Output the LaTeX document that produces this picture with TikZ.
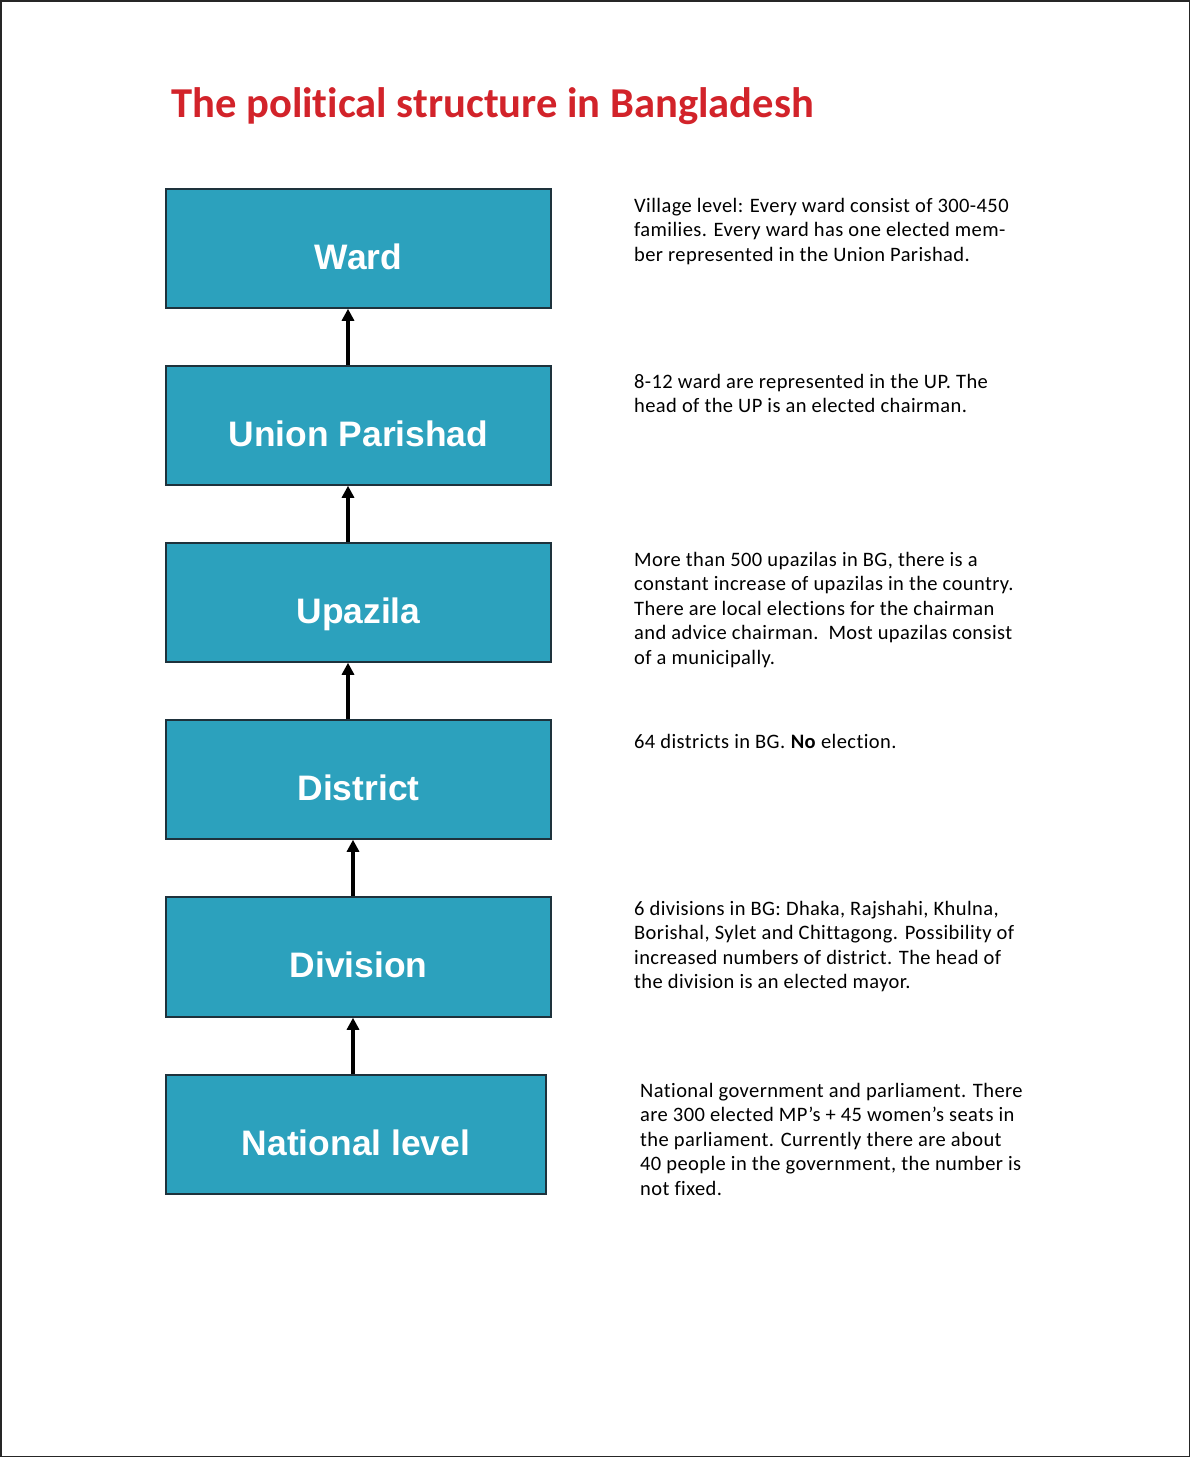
\documentclass[tikz,border=0pt]{standalone}
\usepackage{fontspec}
\usetikzlibrary{arrows.meta}
\newfontfamily\calib[Ligatures=NoCommon]{Carlito}
\newfontfamily\calibsp[Ligatures=NoCommon,LetterSpace=2]{Carlito}
\newfontfamily\arialf{Liberation Sans}
\definecolor{boxfill}{RGB}{44,161,189}
\definecolor{boxline}{RGB}{30,50,60}
\definecolor{titlered}{RGB}{210,35,42}
\newcommand{\desc}[1]{\parbox[t]{500pt}{\calibsp\fontsize{20.5pt}{24.5pt}\selectfont #1}}
\begin{document}
\begin{tikzpicture}[x=1pt,y=1pt,
  levelbox/.style={draw=boxline, line width=1.5pt, fill=boxfill, inner sep=0pt,
    text=white, font=\arialf\bfseries\fontsize{35.4pt}{40pt}\selectfont,
    text height=41pt, text depth=0pt},
  uparrow/.style={line width=3.5pt, -{Triangle[width=12pt,length=12pt]}},
  desctext/.style={anchor=base west, inner sep=0pt}]
\useasboundingbox (0,0) rectangle (1190,-1457);
\draw[line width=1.5pt, draw=black!85] (0.75,-0.75) rectangle (1189.25,-1456.25);
\node[anchor=base west, inner sep=0pt, text=titlered, font=\calib\bfseries\fontsize{42.6pt}{50pt}\selectfont] (title) at (171,-117) {The political structure in Bangladesh};
% boxes
\node[levelbox, minimum width=385pt, minimum height=119pt] (ward) at (358.5,-248.5) {Ward};
\node[levelbox, minimum width=385pt, minimum height=119pt] (up) at (358.5,-425.5) {Union Parishad};
\node[levelbox, minimum width=385pt, minimum height=119pt] (upz) at (358.5,-602.5) {Upazila};
\node[levelbox, minimum width=385pt, minimum height=119pt] (dist) at (358.5,-779.5) {District};
\node[levelbox, minimum width=385pt, minimum height=120pt] (div) at (358.5,-957) {Division};
\node[levelbox, minimum width=380pt, minimum height=119pt] (nat) at (356,-1134.5) {National level};
% arrows
\draw[uparrow] (up.north -| 348,0) -- (ward.south -| 348,0);
\draw[uparrow] (upz.north -| 348,0) -- (up.south -| 348,0);
\draw[uparrow] (dist.north -| 348,0) -- (upz.south -| 348,0);
\draw[uparrow] (div.north -| 353,0) -- (dist.south -| 353,0);
\draw[uparrow] (nat.north -| 353,0) -- (div.south -| 353,0);
% descriptions
\node[desctext] (dward) at (634,-212) {\desc{Village level: Every ward consist of 300-450\\families. Every ward has one elected mem-\\ber represented in the Union Parishad.}};
\node[desctext] (dup) at (634,-388) {\desc{8-12 ward are represented in the UP. The\\head of the UP is an elected chairman.}};
\node[desctext] (dupz) at (634,-566) {\desc{More than 500 upazilas in BG, there is a\\constant increase of upazilas in the country.\\There are local elections for the chairman\\and advice chairman.\ \ Most upazilas consist\\of a municipally.}};
\node[desctext] (ddist) at (634,-748) {\desc{64 districts in BG. \textbf{No} election.}};
\node[desctext] (ddiv) at (634,-915) {\desc{6 divisions in BG: Dhaka, Rajshahi, Khulna,\\Borishal, Sylet and Chittagong. Possibility of\\increased numbers of district. The head of\\the division is an elected mayor.}};
\node[desctext] (dnat) at (640,-1097) {\desc{National government and parliament. There\\are 300 elected MP’s + 45 women’s seats in\\the parliament. Currently there are about\\40 people in the government, the number is\\not fixed.}};
\end{tikzpicture}
\end{document}
